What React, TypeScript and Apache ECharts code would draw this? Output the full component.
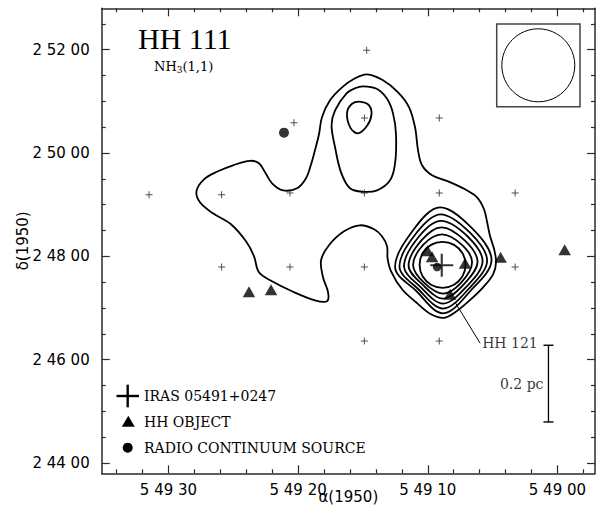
import React, { useEffect, useRef } from 'react';
import * as echarts from 'echarts';

// RA axis: seconds of time east of 5h49m00s (B1950); Dec axis: arcsec north of +2°44'00" (B1950)
const raMin = -2.9;
const raMax = 35.15;
const decMin = -12;
const decMax = 528;
const raMajorTicks = [0, 10, 20, 30];
const raMajorLabels = ['5 49 00', '5 49 10', '5 49 20', '5 49 30'];
const raMinorTicks = [-2, 2, 4, 6, 8, 12, 14, 16, 18, 22, 24, 26, 28, 32, 34];
const decMajorTicks = [0, 120, 240, 360, 480];
const decMajorLabels = ['2 44 00', '2 46 00', '2 48 00', '2 50 00', '2 52 00'];
const decMinorTicks = [30, 60, 90, 150, 180, 210, 270, 300, 330, 390, 420, 450, 510];

// NH3(1,1) contours, [RA s, Dec arcsec]
const contourLowest: [number, number][] = [
  [27.84, 315.5], [27.26, 329.4], [26.18, 338.7], [25.02, 345.7], [23.71, 350.9], [23.02, 348.0],
  [22.55, 337.5], [22.01, 324.8], [21.17, 316.6], [20.08, 319.0], [19.39, 330.6], [19.0, 346.8],
  [18.7, 363.1], [18.39, 381.7], [18.16, 401.4], [17.54, 421.1], [16.61, 436.2], [15.61, 446.7],
  [14.68, 451.3], [13.45, 444.4], [12.29, 430.4], [11.44, 413.0], [10.98, 389.8], [10.75, 363.1],
  [10.44, 345.7], [9.67, 334.1], [8.43, 327.1], [7.12, 317.8], [6.2, 308.5], [5.66, 294.6],
  [5.42, 279.5], [5.19, 263.2], [4.88, 248.1], [4.73, 233.0], [4.96, 219.1], [5.73, 204.0],
  [6.81, 188.3], [7.89, 175.0], [8.74, 168.6], [9.75, 172.7], [10.9, 186.6], [11.98, 201.7],
  [12.83, 222.6], [13.1, 237.7], [13.14, 251.6], [13.53, 263.2], [14.14, 271.4], [15.22, 276.0],
  [16.46, 269.0], [17.62, 252.8], [18.23, 235.4], [18.08, 215.6], [17.69, 198.2], [17.77, 187.8],
  [18.7, 188.9], [20.47, 199.4], [22.01, 211.0], [23.02, 221.4], [23.4, 240.0], [24.02, 257.4],
  [25.18, 277.2], [26.57, 289.9], [27.57, 302.7],
];
const contourNorth2: [number, number][] = [
  [14.99, 437.4], [13.94, 434.5], [13.14, 422.9], [12.68, 406.0], [12.45, 381.7], [12.52, 348.0],
  [12.91, 328.3], [13.91, 316.6], [14.99, 314.9], [16.0, 319.0], [16.69, 337.5], [17.15, 366.6],
  [17.42, 392.1], [17.15, 409.5], [16.3, 428.7], [15.61, 435.1],
];
const contourNorth3: [number, number][] = [
  [16.23, 406.0], [15.84, 417.1], [15.15, 419.4], [14.53, 415.3], [14.34, 404.9], [14.68, 391.5],
  [15.38, 382.8], [15.96, 389.2],
];
const contourCore2: [number, number][] = [
  [9.05, 296.9], [6.57, 272.3], [5.08, 235.4], [6.68, 200.3], [8.82, 173.8], [10.92, 200.3], [12.52, 227.2], [11.03, 272.3],
];
const contourCore3: [number, number][] = [
  [9.01, 288.8], [6.74, 267.4], [5.42, 234.8], [6.84, 202.3], [8.82, 179.3], [10.76, 202.3], [12.18, 227.8], [10.86, 267.4],
];
const contourCore4: [number, number][] = [
  [8.98, 281.2], [6.92, 263.0], [5.77, 234.2], [7.01, 204.8], [8.82, 185.1], [10.59, 204.8], [11.83, 228.4], [10.68, 263.0],
];
const contourCore5: [number, number][] = [
  [8.94, 273.7], [7.15, 258.4], [6.16, 233.6], [7.22, 207.4], [8.82, 190.9], [10.42, 207.4], [11.48, 229.0], [10.49, 258.4],
];
const contourCore6: [number, number][] = [
  [8.9, 265.5], [7.38, 253.5], [6.58, 233.0], [7.42, 209.4], [8.82, 196.7], [10.29, 209.4], [11.13, 229.6], [10.34, 253.5],
];
const contourCore7: [number, number][] = [
  [8.86, 256.8], [7.97, 253.3], [7.32, 243.5], [7.08, 230.1], [7.32, 216.8], [7.97, 207.0],
  [8.86, 203.4], [9.75, 207.0], [10.4, 216.8], [10.63, 230.1], [10.4, 243.5], [9.75, 253.3],
];
const contours = [
  contourLowest, contourNorth2, contourNorth3, contourCore2, contourCore3,
  contourCore4, contourCore5, contourCore6, contourCore7,
];

const observedPositions: [number, number][] = [
  [31.5, 311.6], [25.9, 311.6], [25.9, 227.6], [20.63, 227.6], [20.63, 313.5], [20.32, 395.2],
  [14.71, 479.2], [14.89, 400.6], [9.11, 400.6], [14.89, 313.5], [9.11, 313.5], [3.26, 313.5],
  [14.89, 227.6], [3.26, 227.6], [14.89, 141.7], [9.11, 141.7],
];
const hhObjects: [number, number][] = [
  [10.02, 246.4], [9.67, 239.4], [7.12, 231.9], [4.38, 238.8], [-0.56, 247.5], [8.28, 195.9],
  [23.79, 198.8], [22.09, 201.1],
];
const radioSources: [number, number][] = [[21.09, 383.6], [9.28, 227.6]];
const irasSource: [number, number][] = [[8.92, 229.6]];
const hh121Leader: [number, number][] = [[7.89, 186.6], [5.96, 139.0]];
const scaleBar: [number, number][] = [[0.69, 47.6], [0.69, 136.7]];
const scaleBarLabelPos: [number, number] = [0.69, 91.8];
const legendNames = ['IRAS 05491+0247', 'HH OBJECT', 'RADIO CONTINUUM SOURCE'];

const frameColor = '#2a2a2a';
const sans = 'DejaVu Sans';
const serif = 'DejaVu Serif';
const smallPlus = 'path://M3,0h1v3h3v1h-3v3h-1v-3h-3v-1h3z';
const bigPlus = 'path://M10,0h2v10h10v2h-10v10h-2v-10h-10v-2h10z';

const gridRect = { left: 101.7, top: 8.3, right: 6, bottom: 44.7, outerBoundsMode: 'none' };

function xAxisDef(gridIndex: number, position: string, major: boolean, withLabels: boolean) {
  return {
    type: 'value', gridIndex, position, inverse: true, min: raMin, max: raMax,
    splitLine: { show: false },
    axisLine: { show: major, onZero: false, lineStyle: { color: frameColor, width: 1.5 } },
    axisTick: {
      show: true, inside: true, length: major ? 8 : 4,
      customValues: major ? raMajorTicks : raMinorTicks,
      lineStyle: { color: frameColor, width: 1.2 },
    },
    axisLabel: withLabels
      ? {
          show: true, customValues: raMajorTicks, margin: 9.5,
          formatter: (v: number) => raMajorLabels[raMajorTicks.indexOf(v)] ?? '',
          fontFamily: sans, fontSize: 15, color: '#000',
        }
      : { show: false },
    ...(withLabels
      ? {
          name: 'α(1950)', nameLocation: 'middle', nameGap: 16, nameMoveOverlap: false,
          nameTextStyle: { fontFamily: sans, fontSize: 15, color: '#000' },
        }
      : {}),
  };
}

function yAxisDef(gridIndex: number, position: string, major: boolean, withLabels: boolean) {
  return {
    type: 'value', gridIndex, position, min: decMin, max: decMax,
    splitLine: { show: false },
    axisLine: { show: major, onZero: false, lineStyle: { color: frameColor, width: 1.5 } },
    axisTick: {
      show: true, inside: true, length: major ? 8 : 4,
      customValues: major ? decMajorTicks : decMinorTicks,
      lineStyle: { color: frameColor, width: 1.2 },
    },
    axisLabel: withLabels
      ? {
          show: true, customValues: decMajorTicks, margin: 12,
          formatter: (v: number) => decMajorLabels[decMajorTicks.indexOf(v)] ?? '',
          fontFamily: sans, fontSize: 15, color: '#000',
        }
      : { show: false },
    ...(withLabels
      ? {
          name: 'δ(1950)', nameLocation: 'middle', nameGap: 71, nameRotate: 90, nameMoveOverlap: false,
          nameTextStyle: { fontFamily: sans, fontSize: 15, color: '#000' },
        }
      : {}),
  };
}

const option: any = {
  animation: false,
  backgroundColor: '#ffffff',
  grid: [gridRect, gridRect],
  xAxis: [
    xAxisDef(0, 'bottom', true, true),
    xAxisDef(0, 'top', true, false),
    xAxisDef(1, 'bottom', false, false),
    xAxisDef(1, 'top', false, false),
  ],
  yAxis: [
    yAxisDef(0, 'left', true, true),
    yAxisDef(0, 'right', true, false),
    yAxisDef(1, 'left', false, false),
    yAxisDef(1, 'right', false, false),
  ],
  graphic: [
    {
      type: 'text', x: 138, y: 38.5, z: 10,
      style: { text: 'HH 111', fill: '#000', font: '30px "Liberation Serif"', verticalAlign: 'middle', align: 'left' },
    },
    {
      type: 'text', x: 154, y: 66.5, z: 10,
      style: {
        text: '{n|NH}{s|3}{n|(1,1)}', fill: '#000', verticalAlign: 'middle', align: 'left',
        rich: {
          n: { fontFamily: serif, fontSize: 13, fill: '#000' },
          s: { fontFamily: serif, fontSize: 9, fill: '#000', padding: [7, 0, 0, 0] },
        },
      },
    },
    {
      type: 'rect', z: 10,
      shape: { x: 496.7, y: 24, width: 83.3, height: 82.7 },
      style: { fill: 'none', stroke: '#444', lineWidth: 1.5 },
    },
    {
      type: 'circle', z: 10,
      shape: { cx: 538.3, cy: 65.3, r: 36.5 },
      style: { fill: 'none', stroke: '#000', lineWidth: 1 },
    },
    // legend
    { type: 'line', z: 10, shape: { x1: 116.5, y1: 396, x2: 139, y2: 396 }, style: { stroke: '#000', lineWidth: 2.4 } },
    { type: 'line', z: 10, shape: { x1: 127.7, y1: 384.7, x2: 127.7, y2: 407.3 }, style: { stroke: '#000', lineWidth: 2.4 } },
    { type: 'polygon', z: 10, shape: { points: [[128.3, 415.8], [134.8, 426.8], [121.8, 426.8]] }, style: { fill: '#000' } },
    { type: 'circle', z: 10, shape: { cx: 127.7, cy: 447.7, r: 5 }, style: { fill: '#000' } },
    {
      type: 'text', x: 144, y: 395.5, z: 10,
      style: { text: legendNames[0], fill: '#000', font: `14px "${serif}"`, verticalAlign: 'middle', align: 'left' },
    },
    {
      type: 'text', x: 144, y: 422, z: 10,
      style: { text: legendNames[1], fill: '#000', font: `14px "${serif}"`, verticalAlign: 'middle', align: 'left' },
    },
    {
      type: 'text', x: 144, y: 448, z: 10,
      style: { text: legendNames[2], fill: '#000', font: `14px "${serif}"`, verticalAlign: 'middle', align: 'left' },
    },
  ],
  series: [
    {
      type: 'custom', name: 'NH3 contours', xAxisIndex: 0, yAxisIndex: 0, silent: true, z: 2,
      data: contours.map((c, i) => [c[0][0], c[0][1], i]),
      encode: { x: 0, y: 1 },
      renderItem: (_params: any, api: any) => {
        const idx = api.value(2) as number;
        const pts = contours[idx].map((p) => api.coord(p));
        return {
          type: 'polygon',
          shape: { points: pts, smooth: 0.35 },
          style: { fill: 'none', stroke: '#000', lineWidth: 1.8 },
        };
      },
    },
    {
      type: 'scatter', name: 'Observed positions', silent: true, z: 3,
      symbol: smallPlus, symbolSize: 7, itemStyle: { color: '#222' },
      data: observedPositions,
    },
    {
      type: 'line', name: 'HH 121 pointer', silent: true, z: 3,
      symbol: 'none', lineStyle: { color: '#000', width: 1 },
      data: hh121Leader,
    },
    {
      type: 'line', name: 'Scale bar', silent: true, z: 3,
      symbol: 'rect', symbolSize: [10, 1.4], showSymbol: true,
      itemStyle: { color: '#000' }, lineStyle: { color: '#000', width: 1.3 },
      data: scaleBar,
    },
    {
      type: 'scatter', name: 'Labels', silent: true, z: 4,
      symbolSize: 1, itemStyle: { color: 'rgba(0,0,0,0)' },
      label: { show: true, color: '#000', fontFamily: serif, fontSize: 14 },
      data: [
        { value: hh121Leader[1], label: { position: 'right', distance: 1.5, formatter: 'HH 121' } },
        { value: scaleBarLabelPos, label: { position: 'left', distance: 4.5, formatter: '0.2 pc' } },
      ],
    },
    {
      type: 'scatter', name: legendNames[1], silent: true, z: 5,
      symbol: 'triangle', symbolSize: [12.5, 11], itemStyle: { color: '#000' },
      data: hhObjects,
    },
    {
      type: 'scatter', name: legendNames[2], silent: true, z: 5,
      symbol: 'circle', symbolSize: (_v: any, p: any) => (p.dataIndex === 0 ? 10 : 8.5),
      itemStyle: { color: '#000' },
      data: radioSources,
    },
    {
      type: 'scatter', name: legendNames[0], silent: true, z: 6,
      symbol: bigPlus, symbolSize: 23, itemStyle: { color: '#000' },
      data: irasSource,
    },
  ],
};

export default function App() {
  const ref = useRef<HTMLDivElement>(null);
  useEffect(() => {
    if (!ref.current) return;
    const chart = echarts.init(ref.current, null, { renderer: 'svg' });
    chart.setOption(option);
    return () => chart.dispose();
  }, []);
  return (
    <div
      ref={ref}
      style={{ position: 'absolute', left: 0, top: 0, width: 601, height: 518, background: '#fff' }}
    />
  );
}
